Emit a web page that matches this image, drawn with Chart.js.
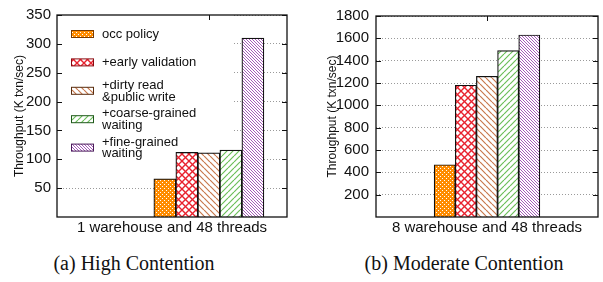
<!DOCTYPE html>
<html>
<head>
<meta charset="utf-8">
<script src="https://cdn.jsdelivr.net/npm/chart.js@4.4.1/dist/chart.umd.min.js"></script>
<style>
  html, body { margin: 0; padding: 0; background: #fff; }
  #page { position: relative; width: 603px; height: 282px; overflow: hidden; }
  .panel { position: absolute; top: 0; height: 240px; }
  #left { left: 0; width: 300px; }
  #right { left: 300px; width: 303px; }
  .caption {
    position: absolute; top: 252px; line-height: 23px;
    font: 20px "Liberation Serif", "Times New Roman", serif; color: #111;
    white-space: nowrap; transform: translateX(-50%);
  }
</style>
</head>
<body>
<div id="page">
  <div class="panel" id="left"><canvas id="highChart" width="300" height="240"></canvas></div>
  <div class="panel" id="right"><canvas id="modChart" width="303" height="240"></canvas></div>
  <div class="caption" style="left:134px">(a) High Contention</div>
  <div class="caption" style="left:464px">(b) Moderate Contention</div>
</div>
<script>
// data
const seriesLabels = [
  "occ policy",
  "+early validation",
  "+dirty read\n&public write",
  "+coarse-grained\nwaiting",
  "+fine-grained\nwaiting",
];
const highValues = [66, 112, 111, 116, 310];
const moderateValues = [468, 1180, 1260, 1490, 1630];
const highTicks = [50, 100, 150, 200, 250, 300, 350];
const moderateTicks = [200, 400, 600, 800, 1000, 1200, 1400, 1600, 1800];

const fillColors = ["#ff8c00", "#e8222e", "#c8784c", "#6cbf5a", "#a65cba"];
const edgeColors = ["#7a3b00", "#8a0a10", "#5a2e10", "#1f5a1a", "#4a1a5a"];

const FONT = '"Liberation Sans", Arial, Helvetica, sans-serif';
const TEXT = "#111";

// --- hatch patterns (gnuplot style fills) ---
function tile(size, draw) {
  const c = document.createElement("canvas");
  c.width = c.height = size;
  draw(c.getContext("2d"), size);
  return c.getContext("2d").createPattern(c, "repeat");
}

function diag(g, s, color, width, back) {
  g.strokeStyle = color;
  g.lineWidth = width;
  g.beginPath();
  for (const k of [-s, 0, s]) {
    if (back) { g.moveTo(k, 0); g.lineTo(k + s, s); }
    else { g.moveTo(k + s, 0); g.lineTo(k, s); }
  }
  g.stroke();
}

const patterns = [
  tile(4, (g, s) => {
    g.fillStyle = fillColors[0];
    g.fillRect(0, 0, s, s);
    g.fillStyle = "#fff";
    g.fillRect(0, 0, 1, 1);
    g.fillRect(2, 2, 1, 1);
  }),
  tile(7, (g, s) => {
    g.fillStyle = "#fff";
    g.fillRect(0, 0, s, s);
    diag(g, s, fillColors[1], 1.4, true);
    diag(g, s, fillColors[1], 1.4, false);
  }),
  tile(6, (g, s) => {
    g.fillStyle = "#fff";
    g.fillRect(0, 0, s, s);
    diag(g, s, fillColors[2], 1.2, true);
  }),
  tile(6, (g, s) => {
    g.fillStyle = "#fff";
    g.fillRect(0, 0, s, s);
    diag(g, s, fillColors[3], 1.2, false);
  }),
  tile(3, (g, s) => {
    g.fillStyle = "#fff";
    g.fillRect(0, 0, s, s);
    diag(g, s, fillColors[4], 1, true);
  }),
];

function drawLegend(chart) {
  const { ctx, chartArea: a } = chart;
  ctx.save();
  ctx.fillStyle = "#fff";
  ctx.fillRect(a.left, a.top, 175, 149);
  ctx.font = "13px " + FONT;
  ctx.textBaseline = "middle";
  chart.data.datasets.forEach((ds, i) => {
    const cy = a.top + 19 + i * 28.4;
    const sx = a.left + 14;
    ctx.fillStyle = ds.backgroundColor;
    ctx.fillRect(sx, cy - 3.5, 23, 7);
    ctx.strokeStyle = edgeColors[i];
    ctx.lineWidth = 1;
    ctx.strokeRect(sx + 0.5, cy - 3.5, 22, 7);
    const lines = ds.label.split("\n");
    ctx.fillStyle = TEXT;
    lines.forEach((ln, k) => {
      ctx.fillText(ln, a.left + 45, cy + 0.5 + (k - (lines.length - 1) / 2) * 11.6);
    });
  });
  ctx.restore();
}

const framePlugin = {
  id: "frame",
  beforeDatasetsDraw(chart, args, opts) {
    const { ctx, chartArea: a, scales } = chart;
    if (opts.legend) drawLegend(chart);
    ctx.save();
    ctx.strokeStyle = TEXT;
    ctx.lineWidth = 1;
    ctx.beginPath();
    scales.y.ticks.forEach((t) => {
      const py = Math.round(scales.y.getPixelForValue(t.value)) + 0.5;
      ctx.moveTo(a.left, py); ctx.lineTo(a.left + 5, py);
      ctx.moveTo(a.right, py); ctx.lineTo(a.right - 5, py);
    });
    scales.x.ticks.forEach((t) => {
      const px = Math.round(scales.x.getPixelForValue(t.value)) + 0.5;
      ctx.moveTo(px, a.top); ctx.lineTo(px, a.top + 5);
      ctx.moveTo(px, a.bottom); ctx.lineTo(px, a.bottom - 5);
    });
    ctx.stroke();
    ctx.restore();
  },
  afterDatasetsDraw(chart) {
    const { ctx, chartArea: a } = chart;
    ctx.save();
    ctx.strokeStyle = TEXT;
    ctx.lineWidth = 1.3;
    ctx.strokeRect(a.left, a.top, a.right - a.left, a.bottom - a.top);
    ctx.restore();
  },
};

function makeChart(canvas, cfg) {
  const datasets = cfg.values.map((v, i) => ({
    label: seriesLabels[i],
    data: [{ x: cfg.firstSlot + i, y: v }],
    backgroundColor: patterns[i],
    borderColor: TEXT,
    borderWidth: 1.2,
    barPercentage: 1,
    categoryPercentage: 1,
    grouped: false,
  }));
  const center = cfg.firstSlot + (cfg.values.length - 1) / 2;

  return new Chart(canvas, {
    type: "bar",
    data: { datasets },
    plugins: [framePlugin],
    options: {
      responsive: false,
      animation: false,
      layout: { padding: { left: 0, right: cfg.padRight, top: 13, bottom: 0 } },
      plugins: {
        legend: { display: false },
        tooltip: { enabled: false },
        frame: { legend: cfg.legend },
      },
      scales: {
        x: {
          type: "linear",
          offset: false,
          min: 0,
          max: cfg.slotMax,
          grid: { display: false },
          border: { display: false },
          ticks: { display: false },
          afterBuildTicks: (s) => { s.ticks = [{ value: center }]; },
          afterFit: (s) => { s.height = 23; },
          title: {
            display: true,
            text: cfg.xTitle,
            color: TEXT,
            font: { family: FONT, size: 15 },
            padding: { top: 0, bottom: 3 },
          },
        },
        y: {
          min: 0,
          max: cfg.yMax,
          afterBuildTicks: (s) => { s.ticks = cfg.yTicks.map((v) => ({ value: v })); },
          afterFit: (s) => { s.width = cfg.yWidth; },
          ticks: {
            color: TEXT,
            font: { family: FONT, size: 15 },
            padding: cfg.tickPad,
            callback: (v) => String(v),
          },
          grid: { color: "#9a9a9a", lineWidth: 1, drawTicks: false },
          border: { display: false, dash: [1, 2] },
          title: {
            display: true,
            text: "Throughput (K txn/sec)",
            color: TEXT,
            font: { family: FONT, size: 12 },
            padding: { top: cfg.yTitlePad, bottom: 0 },
          },
        },
      },
    },
  });
}

makeChart(document.getElementById("highChart"), {
  values: highValues,
  yTicks: highTicks,
  yMax: 350,
  firstSlot: 4.9,
  slotMax: 10.45,
  xTitle: "1 warehouse and 48 threads",
  yWidth: 57,
  tickPad: 6,
  yTitlePad: 12,
  padRight: 13,
  legend: true,
});

makeChart(document.getElementById("modChart"), {
  values: moderateValues,
  yTicks: moderateTicks,
  yMax: 1800,
  firstSlot: 3.25,
  slotMax: 10.5,
  xTitle: "8 warehouse and 48 threads",
  yWidth: 76,
  tickPad: 7,
  yTitlePad: 25,
  padRight: 5,
  legend: false,
});
</script>
</body>
</html>
